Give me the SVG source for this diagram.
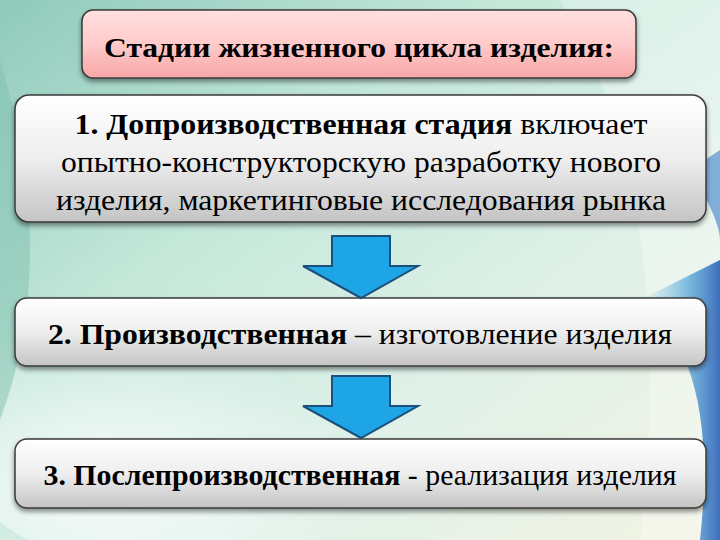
<svg xmlns="http://www.w3.org/2000/svg" width="720" height="540" viewBox="0 0 720 540">
<defs>
<linearGradient id="bg" x1="0" y1="0" x2="1" y2="1">
<stop offset="0" stop-color="#8fcabb"/>
<stop offset="0.35" stop-color="#c4e8da"/>
<stop offset="0.65" stop-color="#dff1e9"/>
<stop offset="1" stop-color="#f2f3e2"/>
</linearGradient>
<radialGradient id="glow" cx="0.3" cy="0.7" r="0.5">
<stop offset="0" stop-color="#ffffff" stop-opacity="0.8"/>
<stop offset="1" stop-color="#ffffff" stop-opacity="0"/>
</radialGradient>
<linearGradient id="blue" x1="0" y1="0" x2="1" y2="0">
<stop offset="0" stop-color="#7ec8e6" stop-opacity="0"/>
<stop offset="0.6" stop-color="#4a9fd6" stop-opacity="0.7"/>
<stop offset="1" stop-color="#2a5fb8" stop-opacity="0.9"/>
</linearGradient>
<linearGradient id="pink" x1="0" y1="0" x2="0" y2="1">
<stop offset="0" stop-color="#ffe0e0"/>
<stop offset="0.5" stop-color="#ffcaca"/>
<stop offset="1" stop-color="#f7a6a6"/>
</linearGradient>
<linearGradient id="gray" x1="0" y1="0" x2="0" y2="1">
<stop offset="0" stop-color="#ffffff"/>
<stop offset="0.5" stop-color="#eeeeee"/>
<stop offset="1" stop-color="#c4c4c4"/>
</linearGradient>
<filter id="sh" x="-5%" y="-10%" width="110%" height="130%">
<feDropShadow dx="0" dy="3" stdDeviation="2.5" flood-color="#000" flood-opacity="0.45"/>
</filter>
<style>
.box{stroke:#3a3a3a;stroke-width:1.5;filter:url(#sh)}
text{font-family:'Liberation Serif','DejaVu Serif','Times New Roman',serif;fill:#000;text-anchor:middle}
.b{font-weight:bold}
.arrow{fill:#1ea5e6;stroke:#1c4f7a;stroke-width:2;stroke-linejoin:miter}
</style>
</defs>
<rect width="720" height="540" fill="url(#bg)"/>
<ellipse cx="200" cy="420" rx="260" ry="160" fill="url(#glow)"/>
<path d="M560 0 Q680 200 640 540 L720 540 L720 0 Z" fill="#ffffff" opacity="0.3"/>
<path d="M640 300 Q720 360 700 540 L720 540 L720 260 Z" fill="url(#blue)"/>
<path d="M690 170 Q720 220 720 240 L720 150 Z" fill="#3d7fcc" opacity="0.6"/>
<path d="M0 60 Q60 260 0 420 Z" fill="#7fbfb0" opacity="0.5"/>

<g id="title">
<rect class="box" x="82" y="10" width="554" height="68" rx="11" fill="url(#pink)"/>
<text class="b" x="359" y="57" font-family="Liberation Serif, DejaVu Serif, serif" font-size="28" textLength="510" lengthAdjust="spacingAndGlyphs">Стадии жизненного цикла изделия:</text>
</g>

<g id="stage1">
<rect class="box" x="15" y="95" width="691" height="127" rx="14" fill="url(#gray)"/>
<text x="361" y="134" font-family="Liberation Serif, DejaVu Serif, serif" font-size="30" textLength="573" lengthAdjust="spacingAndGlyphs"><tspan class="b">1. Допроизводственная стадия</tspan> включает</text>
<text x="361" y="172" font-family="Liberation Serif, DejaVu Serif, serif" font-size="30" textLength="600" lengthAdjust="spacingAndGlyphs">опытно-конструкторскую разработку нового</text>
<text x="361" y="210" font-family="Liberation Serif, DejaVu Serif, serif" font-size="30" textLength="610" lengthAdjust="spacingAndGlyphs">изделия, маркетинговые исследования рынка</text>
</g>

<g id="stage2">
<rect class="box" x="15" y="298" width="691" height="68" rx="12" fill="url(#gray)"/>
<text x="360" y="344" font-family="Liberation Serif, DejaVu Serif, serif" font-size="30" textLength="624" lengthAdjust="spacingAndGlyphs"><tspan class="b">2. Производственная</tspan> – изготовление изделия</text>
</g>

<g id="stage3">
<rect class="box" x="15" y="439" width="691" height="69" rx="12" fill="url(#gray)"/>
<text x="360" y="485" font-family="Liberation Serif, DejaVu Serif, serif" font-size="30" textLength="633" lengthAdjust="spacingAndGlyphs"><tspan class="b">3. Послепроизводственная</tspan> - реализация изделия</text>
</g>

<g id="connectors">
<path class="arrow" d="M332 236 L390 236 L390 266 L418 266 L361 298 L303 266 L332 266 Z"/>
<path class="arrow" d="M332 376 L390 376 L390 406 L418 406 L361 438 L303 406 L332 406 Z"/>
</g>
</svg>
